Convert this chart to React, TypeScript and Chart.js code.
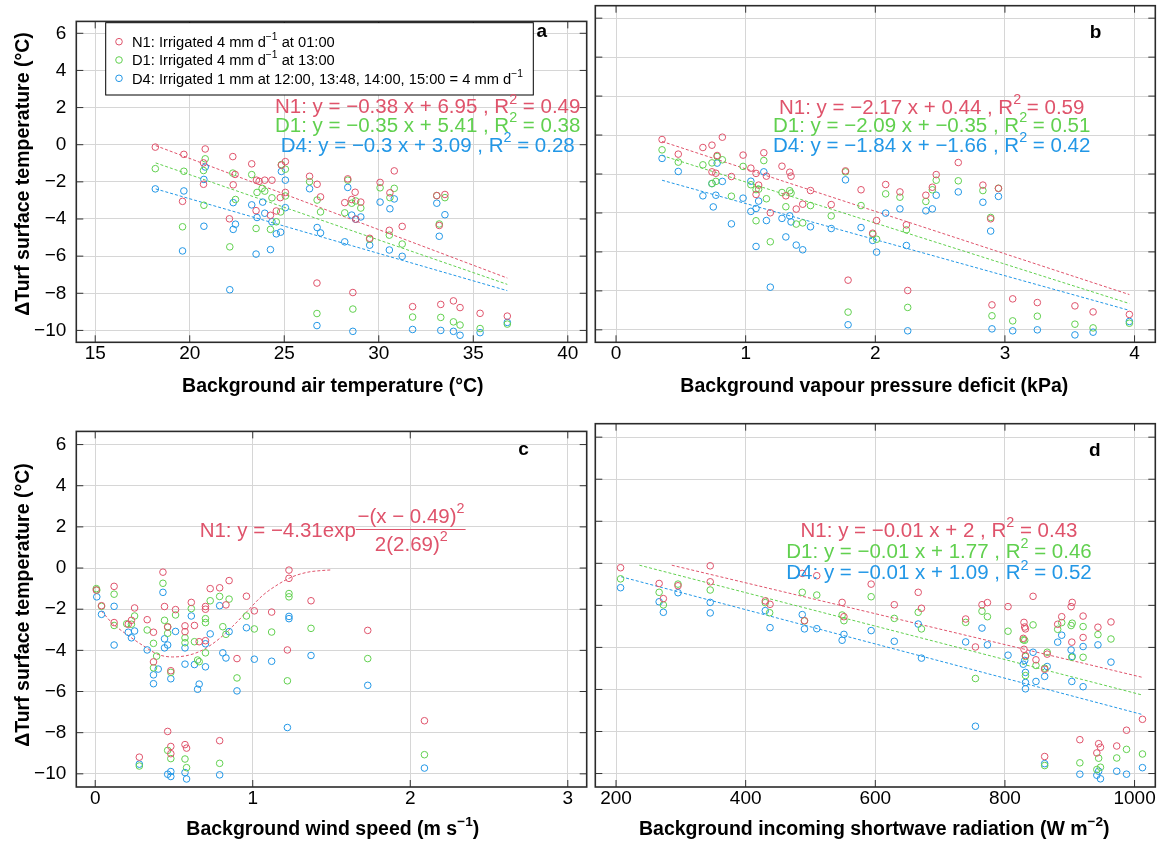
import React, { useEffect, useRef } from "react";
import { Chart, registerables } from "chart.js";
Chart.register(...registerables);

const RED = "#DF536B";
const GREEN = "#61D04F";
const BLUE = "#2297E6";
const FONT = '"Liberation Sans", Arial, Helvetica, sans-serif';

// ---------- tick values ----------
const xTicksA = [15, 20, 25, 30, 35, 40];
const xTicksB = [0, 1, 2, 3, 4];
const xTicksC = [0, 1, 2, 3];
const xTicksD = [200, 400, 600, 800, 1000];
const yTicks = [-10, -8, -6, -4, -2, 0, 2, 4, 6];

type P = [number, number];

// ---------- panel a: air temperature ----------
const aN1: P[] = [[18.18,-0.13],[19.69,-0.52],[20.82,-0.23],[20.73,-0.98],[22.28,-0.64],[23.28,-1.03],[23.53,-1.91],[23.67,-1.97],[23.97,-1.91],[24.35,-1.91],[22.4,-1.6],[24.85,-1.1],[25.06,-0.91],[20.73,-2.13],[22.3,-2.16],[19.62,-3.05],[22.1,-3.99],[23.51,-3.55],[24.27,-3.8],[24.58,-3.57],[24.79,-2.85],[25.06,-2.57],[26.34,-1.7],[26.74,-2.13],[26.92,-2.81],[28.36,-1.84],[28.75,-2.56],[28.2,-3.12],[28.57,-2.95],[29.05,-3.09],[28.78,-4.01],[30.07,-2.03],[30.59,-2.59],[30.82,-1.41],[30.56,-4.61],[31.24,-4.4],[33.07,-2.74],[33.5,-2.68],[33.2,-4.35],[26.73,-7.45],[28.63,-7.96],[31.79,-8.72],[33.28,-8.6],[33.95,-8.41],[34.3,-8.77],[35.36,-9.08],[36.8,-9.23],[29.52,-5.04]];
const aD1: P[] = [[18.18,-1.29],[19.69,-1.43],[20.82,-0.76],[20.73,-1.39],[20.75,-3.26],[19.62,-4.42],[22.28,-1.53],[22.42,-2.95],[22.12,-5.5],[23.28,-1.61],[23.56,-2.57],[23.83,-2.35],[23.97,-2.5],[24.35,-2.86],[23.51,-4.51],[24.27,-4.56],[24.58,-4.15],[24.81,-3.62],[24.85,-1.07],[25.06,-1.32],[25.06,-2.76],[26.34,-1.99],[26.74,-2.98],[26.92,-3.62],[28.36,-1.91],[28.2,-3.67],[28.57,-3.15],[28.78,-3.03],[29.05,-3.41],[30.07,-2.32],[30.59,-2.85],[30.82,-2.35],[30.56,-4.87],[31.24,-5.35],[29.52,-5.09],[33.07,-2.74],[33.5,-2.85],[33.2,-4.27],[26.73,-9.09],[28.63,-8.85],[31.79,-9.28],[33.28,-9.3],[33.95,-9.54],[34.3,-9.71],[35.36,-9.9],[36.8,-9.66]];
const aD4: P[] = [[18.18,-2.38],[19.69,-2.49],[20.75,-1.87],[20.82,-1.2],[20.75,-4.39],[19.62,-5.72],[22.3,-3.12],[22.42,-4.28],[22.3,-4.56],[22.12,-7.81],[23.28,-3.24],[23.56,-3.92],[23.86,-3.09],[23.97,-3.69],[24.35,-4.15],[23.51,-5.89],[24.27,-5.65],[24.58,-4.8],[24.81,-4.71],[24.85,-1.44],[25.06,-1.91],[25.06,-3.39],[26.34,-2.37],[26.74,-4.46],[26.92,-4.75],[28.36,-2.3],[28.2,-5.23],[28.57,-3.79],[28.78,-4.01],[29.05,-3.89],[30.07,-3.09],[30.59,-3.45],[30.82,-2.92],[30.56,-5.67],[31.24,-6.01],[29.52,-5.41],[33.07,-3.15],[33.5,-3.77],[33.2,-4.93],[26.73,-9.74],[28.63,-10.05],[31.79,-9.95],[33.28,-10],[33.95,-10.05],[34.3,-10.26],[35.36,-10.12],[36.8,-9.57]];
const aFitN1: P[] = [[18.2,-0.05],[36.8,-7.18]];
const aFitD1: P[] = [[18.2,-0.98],[36.8,-7.52]];
const aFitD4: P[] = [[18.2,-2.38],[36.8,-7.86]];

// ---------- panel b: vapour pressure deficit ----------
const bN1: P[] = [[0.355,-0.23],[0.48,-0.98],[0.67,-0.64],[0.74,-0.52],[0.82,-0.11],[0.74,-1.89],[0.77,-1.96],[0.78,-1.05],[0.89,-2.13],[0.98,-1.03],[1.04,-1.7],[1.08,-1.97],[1.1,-2.57],[1.08,-3.05],[1.14,-0.91],[1.16,-2.11],[1.19,-3.99],[1.28,-1.6],[1.34,-1.91],[1.35,-2.11],[1.31,-3.12],[1.39,-3.8],[1.44,-3.55],[1.5,-2.85],[1.66,-3.57],[1.77,-1.84],[1.89,-2.81],[2.08,-2.54],[2.01,-4.39],[1.98,-5.04],[2.19,-2.92],[2.24,-4.61],[2.39,-3.09],[2.44,-2.68],[2.47,-2.03],[2.64,-1.41],[2.83,-2.57],[2.89,-4.3],[2.95,-2.74],[1.79,-7.45],[2.25,-7.98],[2.9,-8.72],[3.06,-8.41],[3.25,-8.6],[3.54,-8.77],[3.68,-9.08],[3.96,-9.21]];
const bD1: P[] = [[0.355,-0.76],[0.48,-1.39],[0.67,-1.53],[0.74,-1.43],[0.78,-1.1],[0.82,-1.27],[0.77,-2.38],[0.74,-2.49],[0.89,-3.14],[0.98,-1.61],[1.04,-2.55],[1.08,-2.8],[1.1,-2.78],[1.08,-4.4],[1.14,-1.31],[1.16,-3.27],[1.19,-5.48],[1.28,-2.95],[1.34,-2.86],[1.35,-2.98],[1.31,-3.68],[1.39,-4.57],[1.44,-4.51],[1.5,-3.62],[1.66,-4.15],[1.77,-1.89],[1.89,-3.62],[2.08,-3.02],[2.01,-5.35],[1.98,-5.09],[2.19,-3.19],[2.24,-4.87],[2.39,-3.41],[2.44,-2.81],[2.47,-2.32],[2.64,-2.35],[2.83,-2.85],[2.89,-4.23],[2.95,-2.73],[1.79,-9.09],[2.25,-8.85],[2.9,-9.28],[3.06,-9.54],[3.25,-9.3],[3.54,-9.71],[3.68,-9.9],[3.96,-9.66]];
const bD4: P[] = [[0.355,-1.2],[0.48,-1.87],[0.67,-3.12],[0.74,-2.49],[0.78,-1.44],[0.82,-2.38],[0.77,-3.09],[0.75,-3.69],[0.89,-4.56],[0.98,-3.24],[1.04,-2.37],[1.04,-3.92],[1.08,-3.77],[1.1,-3.39],[1.08,-5.72],[1.14,-1.89],[1.16,-4.39],[1.19,-7.81],[1.28,-4.28],[1.34,-4.15],[1.35,-4.46],[1.31,-5.23],[1.39,-5.65],[1.44,-5.89],[1.5,-4.71],[1.66,-4.8],[1.77,-2.3],[1.89,-4.75],[2.08,-4.01],[2.01,-6.01],[1.98,-5.41],[2.19,-3.79],[2.24,-5.67],[2.39,-3.89],[2.44,-3.79],[2.47,-3.09],[2.64,-2.92],[2.83,-3.45],[2.89,-4.93],[2.95,-3.15],[1.79,-9.74],[2.25,-10.05],[2.9,-9.95],[3.06,-10.05],[3.25,-10],[3.54,-10.26],[3.68,-10.12],[3.96,-9.57]];
const bFitN1: P[] = [[0.355,-0.33],[3.96,-8.19]];
const bFitD1: P[] = [[0.355,-1.05],[3.96,-8.65]];
const bFitD4: P[] = [[0.355,-2.32],[3.96,-9.0]];

// ---------- panel c: wind speed ----------
const cN1: P[] = [[0.007,-1.07],[0.04,-1.83],[0.12,-0.89],[0.12,-2.65],[0.21,-2.73],[0.23,-2.54],[0.25,-1.94],[0.33,-2.51],[0.37,-3.12],[0.37,-4.56],[0.43,-0.2],[0.44,-1.87],[0.46,-2.87],[0.48,-4.99],[0.51,-2.02],[0.57,-2.81],[0.57,-3.09],[0.61,-1.67],[0.63,-2.79],[0.66,-3.58],[0.7,-1.87],[0.7,-2.0],[0.7,-3.53],[0.73,-1.0],[0.79,-0.96],[0.83,-1.79],[0.85,-0.61],[0.9,-4.4],[0.96,-1.37],[1.01,-2.08],[1.12,-2.14],[1.22,-3.98],[1.23,-0.1],[1.23,-0.5],[1.37,-1.59],[1.73,-3.03],[0.46,-7.94],[0.28,-9.19],[0.48,-8.67],[0.48,-9.02],[0.57,-8.58],[0.58,-8.75],[0.79,-8.39],[2.09,-7.42]];
const cD1: P[] = [[0.007,-1.0],[0.01,-1.07],[0.04,-1.86],[0.12,-1.27],[0.12,-2.79],[0.2,-2.71],[0.23,-2.73],[0.25,-2.33],[0.33,-3.01],[0.37,-3.66],[0.39,-4.28],[0.37,-4.85],[0.43,-0.74],[0.44,-2.54],[0.46,-2.85],[0.46,-3.17],[0.48,-5.07],[0.51,-2.28],[0.57,-3.39],[0.57,-3.63],[0.61,-1.97],[0.63,-3.58],[0.65,-4.47],[0.66,-4.55],[0.7,-2.46],[0.7,-2.65],[0.7,-4.12],[0.73,-1.59],[0.79,-1.38],[0.81,-2.85],[0.83,-3.22],[0.85,-1.51],[0.9,-5.34],[0.96,-2.33],[1.01,-2.96],[1.12,-3.11],[1.22,-5.48],[1.23,-1.24],[1.23,-1.4],[1.37,-2.93],[1.73,-4.4],[0.46,-8.86],[0.28,-9.62],[0.48,-9.26],[0.57,-9.28],[0.58,-9.7],[0.79,-9.49],[2.09,-9.07]];
const cD4: P[] = [[0.01,-1.4],[0.04,-2.25],[0.12,-1.86],[0.12,-3.74],[0.21,-3.12],[0.23,-3.39],[0.25,-3.06],[0.33,-3.98],[0.37,-5.19],[0.37,-5.62],[0.4,-4.91],[0.43,-1.18],[0.44,-3.44],[0.44,-3.88],[0.46,-3.74],[0.48,-5.38],[0.51,-3.08],[0.57,-3.88],[0.57,-4.67],[0.61,-2.33],[0.63,-4.69],[0.66,-5.64],[0.65,-5.89],[0.7,-3.68],[0.7,-4.8],[0.73,-3.2],[0.79,-1.83],[0.81,-4.12],[0.83,-4.37],[0.85,-3.09],[0.9,-5.97],[0.96,-2.9],[1.01,-4.43],[1.12,-4.53],[1.22,-7.75],[1.23,-2.35],[1.23,-2.46],[1.37,-4.25],[1.73,-5.7],[0.46,-10.02],[0.48,-9.89],[0.48,-10.13],[0.57,-9.94],[0.58,-10.25],[0.79,-10.05],[0.28,-9.53],[2.09,-9.72]];
const cFitN1: P[] = [[0.04,-2.09],[0.11,-2.69],[0.21,-3.28],[0.3,-3.75],[0.4,-4.2],[0.49,-4.32],[0.59,-4.24],[0.68,-3.99],[0.78,-3.48],[0.87,-2.85],[0.97,-2.06],[1.06,-1.35],[1.16,-0.8],[1.25,-0.43],[1.35,-0.2],[1.44,-0.12],[1.5,-0.09]];

// ---------- panel d: shortwave radiation ----------
const dN1: P[] = [[207,-0.21],[266.5,-0.96],[273,-1.68],[295.6,-1.07],[345.3,-0.12],[345.3,-0.88],[430.3,-1.79],[437.6,-1.95],[487.3,-0.48],[490.7,-2.73],[509.7,-0.59],[548.8,-1.86],[551.6,-2.54],[593.6,-0.99],[629.3,-1.97],[666.2,-1.38],[671.2,-2.14],[739.4,-2.65],[754.5,-3.98],[764.6,-1.97],[773,-1.87],[804.8,-2.06],[829.4,-2.81],[830.5,-3.03],[831.7,-3.12],[828.3,-3.57],[829.4,-4.09],[831.7,-4.39],[843.4,-1.57],[847.9,-4.59],[861.3,-5.04],[865.2,-4.32],[881.4,-2.9],[887.6,-2.54],[902.1,-2.06],[903.8,-1.86],[903.2,-3.75],[920.6,-2.51],[920.6,-3.53],[943.5,-3.04],[963.6,-2.79],[861.3,-9.19],[915.6,-8.39],[941.8,-9.02],[944.6,-8.58],[947.4,-8.75],[972.5,-8.69],[987.6,-7.94],[1012.2,-7.42]];
const dD1: P[] = [[207,-0.74],[266.5,-1.38],[273,-1.98],[295.6,-0.99],[345.3,-1.27],[437,-2.35],[430.3,-1.87],[487.3,-1.38],[490.7,-2.74],[509.7,-1.51],[548.8,-2.46],[551.6,-2.73],[593.6,-1.59],[629.3,-2.62],[666.2,-2.33],[671.2,-3.12],[739.4,-2.81],[754.5,-5.48],[764.6,-2.28],[773,-2.54],[804.8,-3.23],[828.3,-3.64],[830.5,-3.66],[831.7,-4.43],[831.7,-5.34],[843.4,-2.93],[847.9,-4.86],[861.3,-4.99],[865.2,-4.23],[881.4,-3.14],[887.6,-2.82],[902.1,-2.96],[903.8,-2.85],[903.2,-4.47],[920.6,-3.01],[920.6,-4.47],[943.5,-3.39],[963.6,-3.6],[861.3,-9.62],[915.6,-9.49],[941.8,-9.81],[944.6,-9.27],[947.4,-9.7],[972.5,-9.26],[987.6,-8.85],[1012.2,-9.07]];
const dD4: P[] = [[207,-1.16],[266.5,-1.83],[273,-2.33],[295.6,-1.4],[345.3,-1.86],[345.3,-2.36],[430.3,-2.25],[437.6,-3.06],[487.3,-2.44],[490.7,-3.12],[509.7,-3.11],[548.8,-3.66],[551.6,-3.38],[593.6,-3.2],[629.3,-3.71],[666.2,-2.89],[671.2,-4.51],[739.4,-3.74],[754.5,-7.75],[764.6,-3.08],[773,-3.88],[804.8,-4.37],[828.3,-4.8],[830.5,-4.62],[831.7,-5.19],[831.7,-5.67],[831.7,-5.97],[843.4,-4.23],[847.9,-5.62],[861.3,-5.38],[865.2,-4.91],[881.4,-3.75],[887.6,-3.42],[902.1,-4.12],[903.8,-4.43],[903.2,-5.62],[920.6,-3.96],[920.6,-5.87],[943.5,-3.88],[963.6,-4.7],[861.3,-9.53],[915.6,-10.03],[941.8,-10.08],[944.6,-9.89],[947.4,-10.25],[972.5,-9.89],[987.6,-10.03],[1012.2,-9.72]];
const dFitN1: P[] = [[286,-0.09],[1012.8,-5.43]];
const dFitD1: P[] = [[236,-0.09],[1010,-6.25]];
const dFitD4: P[] = [[208,-0.64],[1012.8,-7.2]];

// ---------- text ----------
type Seg = { t: string; sup?: boolean };
const legendRows: { color: string; segs: Seg[] }[] = [
  { color: RED, segs: [{ t: "N1: Irrigated 4 mm d" }, { t: "−1", sup: true }, { t: " at 01:00" }] },
  { color: GREEN, segs: [{ t: "D1: Irrigated 4 mm d" }, { t: "−1", sup: true }, { t: " at 13:00" }] },
  { color: BLUE, segs: [{ t: "D4: Irrigated 1 mm at 12:00, 13:48, 14:00, 15:00 = 4 mm d" }, { t: "−1", sup: true }] },
];
const eq = (a: string, b: string): Seg[] => [{ t: a + ", R" }, { t: "2", sup: true }, { t: " = " + b }];
const eqA = [eq("N1: y = −0.38 x + 6.95 ", "0.49"), eq("D1: y = −0.35 x + 5.41 ", "0.38"), eq("D4: y = −0.3 x + 3.09 ", "0.28")];
const eqB = [eq("N1: y = −2.17 x + 0.44 ", "0.59"), eq("D1: y = −2.09 x + −0.35 ", "0.51"), eq("D4: y = −1.84 x + −1.66 ", "0.42")];
const eqD = [eq("N1: y = −0.01 x + 2 ", "0.43"), eq("D1: y = −0.01 x + 1.77 ", "0.46"), eq("D4: y = −0.01 x + 1.09 ", "0.52")];
const COLORS = [RED, GREEN, BLUE];
const Y_TITLE = "ΔTurf surface temperature (°C)";

function font(size: number, bold = false) {
  return `${bold ? "bold " : ""}${size}px ${FONT}`;
}

function drawRich(ctx: CanvasRenderingContext2D, segs: Seg[], x: number, yMid: number, size: number, color: string, align: "left" | "center" | "right", bold = false) {
  let w = 0;
  const widths = segs.map((s) => {
    ctx.font = font(s.sup ? size * 0.7 : size, bold);
    const m = ctx.measureText(s.t).width;
    w += m;
    return m;
  });
  let cx = align === "center" ? x - w / 2 : align === "right" ? x - w : x;
  const base = yMid + size * 0.36;
  ctx.fillStyle = color;
  ctx.textAlign = "left";
  ctx.textBaseline = "alphabetic";
  segs.forEach((s, i) => {
    ctx.font = font(s.sup ? size * 0.7 : size, bold);
    ctx.fillText(s.t, cx, s.sup ? base - size * 0.48 : base);
    cx += widths[i];
  });
}

function circle(ctx: CanvasRenderingContext2D, x: number, y: number, color: string) {
  ctx.beginPath();
  ctx.arc(x, y, 3.3, 0, Math.PI * 2);
  ctx.strokeStyle = color;
  ctx.lineWidth = 1;
  ctx.stroke();
}

type PanelCfg = {
  ox: number; oy: number; w: number; h: number;
  yW: number; xH: number; padTop: number; padRight: number;
  xmin: number; xmax: number; xTicks: number[]; showY: boolean;
  series: P[][]; fits: { pts: P[]; color: string; smooth?: boolean }[];
  extra: (ctx: CanvasRenderingContext2D) => void;
};

const EQ_SIZE = 20.5;

const panels: PanelCfg[] = [
  {
    ox: 0, oy: 0, w: 591, h: 410, yW: 76.3, xH: 67.7, padTop: 5.7, padRight: 1.7,
    xmin: 14, xmax: 41, xTicks: xTicksA, showY: true,
    series: [aN1, aD1, aD4],
    fits: [{ pts: aFitN1, color: RED }, { pts: aFitD1, color: GREEN }, { pts: aFitD4, color: BLUE }],
    extra: (ctx) => {
      ctx.fillStyle = "#fff";
      ctx.fillRect(105.7, 22.7, 427.6, 72.3);
      ctx.strokeStyle = "#000";
      ctx.lineWidth = 1;
      ctx.strokeRect(105.7, 22.7, 427.6, 72.3);
      const rows = [41.7, 60, 78.3];
      legendRows.forEach((r, i) => {
        circle(ctx, 119, rows[i], r.color);
        drawRich(ctx, r.segs, 132, rows[i], 14.7, "#000", "left");
      });
      [106, 124.7, 144.7].forEach((y, i) => drawRich(ctx, eqA[i], 427.7, y, EQ_SIZE, COLORS[i], "center"));
      drawRich(ctx, [{ t: "a" }], 541.7, 30, 19, "#000", "center", true);
      drawRich(ctx, [{ t: "Background air temperature (°C)" }], 332.8, 385, 19.5, "#000", "center", true);
      ctx.save();
      ctx.translate(22, 174);
      ctx.rotate(-Math.PI / 2);
      drawRich(ctx, [{ t: Y_TITLE }], 0, 0, 19.5, "#000", "center", true);
      ctx.restore();
    },
  },
  {
    ox: 591, oy: 0, w: 570, h: 410, yW: 2.3, xH: 67.7, padTop: 5.7, padRight: 5.7,
    xmin: -0.16, xmax: 4.16, xTicks: xTicksB, showY: false,
    series: [bN1, bD1, bD4],
    fits: [{ pts: bFitN1, color: RED }, { pts: bFitD1, color: GREEN }, { pts: bFitD4, color: BLUE }],
    extra: (ctx) => {
      [106.7, 124.7, 144.7].forEach((y, i) => drawRich(ctx, eqB[i], 931.7, y, EQ_SIZE, COLORS[i], "center"));
      drawRich(ctx, [{ t: "b" }], 1095.5, 31.3, 19, "#000", "center", true);
      drawRich(ctx, [{ t: "Background vapour pressure deficit (kPa)" }], 874.3, 385, 19.5, "#000", "center", true);
    },
  },
  {
    ox: 0, oy: 410, w: 591, h: 431, yW: 76.3, xH: 54, padTop: 13.7, padRight: 1.7,
    xmin: -0.12, xmax: 3.12, xTicks: xTicksC, showY: true,
    series: [cN1, cD1, cD4],
    fits: [{ pts: cFitN1, color: RED, smooth: true }],
    extra: (ctx) => {
      drawRich(ctx, [{ t: "N1: y = −4.31exp" }], 355.8, 530, EQ_SIZE, RED, "right");
      ctx.beginPath();
      ctx.moveTo(355.8, 529.5);
      ctx.lineTo(465.6, 529.5);
      ctx.strokeStyle = RED;
      ctx.lineWidth = 1;
      ctx.stroke();
      drawRich(ctx, [{ t: "−(x − 0.49)" }, { t: "2", sup: true }], 411, 515.5, EQ_SIZE, RED, "center");
      drawRich(ctx, [{ t: "2(2.69)" }, { t: "2", sup: true }], 411.3, 543.3, EQ_SIZE, RED, "center");
      drawRich(ctx, [{ t: "c" }], 523.5, 448, 19, "#000", "center", true);
      drawRich(ctx, [{ t: "Background wind speed (m s" }, { t: "−1", sup: true }, { t: ")" }], 332.8, 828, 19.5, "#000", "center", true);
      ctx.save();
      ctx.translate(22, 605);
      ctx.rotate(-Math.PI / 2);
      drawRich(ctx, [{ t: Y_TITLE }], 0, 0, 19.5, "#000", "center", true);
      ctx.restore();
    },
  },
  {
    ox: 591, oy: 410, w: 570, h: 431, yW: 2.3, xH: 54, padTop: 13.7, padRight: 5.7,
    xmin: 168, xmax: 1032, xTicks: xTicksD, showY: false,
    series: [dN1, dD1, dD4],
    fits: [{ pts: dFitN1, color: RED }, { pts: dFitD1, color: GREEN }, { pts: dFitD4, color: BLUE }],
    extra: (ctx) => {
      [529.6, 550.3, 572].forEach((y, i) => drawRich(ctx, eqD[i], 939, y, EQ_SIZE, COLORS[i], "center"));
      drawRich(ctx, [{ t: "d" }], 1094.7, 449.6, 19, "#000", "center", true);
      drawRich(ctx, [{ t: "Background incoming shortwave radiation (W m" }, { t: "−2", sup: true }, { t: ")" }], 874.3, 828, 19.5, "#000", "center", true);
    },
  },
];

const fmt = (v: number) => String(v).replace("-", "−");

function buildConfig(cfg: PanelCfg): any {
  const datasets: any[] = [];
  cfg.series.forEach((s, i) => {
    datasets.push({
      data: s.map(([x, y]) => ({ x, y })),
      showLine: false,
      borderColor: COLORS[i],
      backgroundColor: "rgba(0,0,0,0)",
      pointRadius: 3.3,
      pointBorderWidth: 1,
      pointHoverRadius: 3.3,
    });
  });
  cfg.fits.forEach((f) => {
    datasets.push({
      data: f.pts.map(([x, y]) => ({ x, y })),
      showLine: true,
      borderColor: f.color,
      borderWidth: 1,
      borderDash: [3, 2],
      pointRadius: 0,
      fill: false,
      tension: f.smooth ? 0.4 : 0,
      cubicInterpolationMode: f.smooth ? "monotone" : "default",
    });
  });

  const framePlugin = {
    id: "frame",
    afterDraw(chart: any) {
      const { ctx, chartArea: ca, scales } = chart;
      ctx.save();
      ctx.strokeStyle = "#333";
      ctx.lineWidth = 1;
      const tl = 7;
      cfg.xTicks.forEach((v) => {
        const px = scales.x.getPixelForValue(v);
        ctx.beginPath();
        ctx.moveTo(px, ca.bottom); ctx.lineTo(px, ca.bottom - tl);
        ctx.moveTo(px, ca.top); ctx.lineTo(px, ca.top + tl);
        ctx.stroke();
      });
      yTicks.forEach((v) => {
        const py = scales.y.getPixelForValue(v);
        ctx.beginPath();
        ctx.moveTo(ca.left, py); ctx.lineTo(ca.left + tl, py);
        ctx.moveTo(ca.right, py); ctx.lineTo(ca.right - tl, py);
        ctx.stroke();
      });
      ctx.strokeStyle = "#2b2b2b";
      ctx.lineWidth = 1.6;
      ctx.strokeRect(ca.left, ca.top, ca.right - ca.left, ca.bottom - ca.top);
      ctx.restore();
      ctx.save();
      ctx.translate(-cfg.ox, -cfg.oy);
      cfg.extra(ctx);
      ctx.restore();
    },
  };

  return {
    type: "scatter",
    data: { datasets },
    options: {
      animation: false,
      responsive: false,
      devicePixelRatio: 1,
      events: [],
      layout: { padding: { top: cfg.padTop, right: cfg.padRight, left: 0, bottom: 0 } },
      plugins: { legend: { display: false }, tooltip: { enabled: false } },
      scales: {
        x: {
          type: "linear",
          position: "bottom",
          min: cfg.xmin,
          max: cfg.xmax,
          afterBuildTicks: (s: any) => { s.ticks = cfg.xTicks.map((v) => ({ value: v })); },
          afterFit: (s: any) => { s.height = cfg.xH; },
          grid: { color: "#d6d6d6", lineWidth: 1, drawTicks: false },
          border: { display: false },
          ticks: { font: { family: FONT, size: 19 }, color: "#000", padding: 0, maxRotation: 0, autoSkip: false, callback: (v: number) => fmt(v) },
        },
        y: {
          type: "linear",
          position: "left",
          min: -10.64,
          max: 6.64,
          afterBuildTicks: (s: any) => { s.ticks = yTicks.map((v) => ({ value: v })); },
          afterFit: (s: any) => { s.width = cfg.yW; },
          grid: { color: "#d6d6d6", lineWidth: 1, drawTicks: false },
          border: { display: false },
          ticks: { display: cfg.showY, font: { family: FONT, size: 19 }, color: "#000", padding: 10, autoSkip: false, callback: (v: number) => fmt(v) },
        },
      },
    },
    plugins: [framePlugin],
  };
}

function Panel({ cfg }: { cfg: PanelCfg }) {
  const ref = useRef<HTMLCanvasElement>(null);
  useEffect(() => {
    const chart = new Chart(ref.current as HTMLCanvasElement, buildConfig(cfg));
    return () => chart.destroy();
  }, []);
  return (
    <canvas
      ref={ref}
      width={cfg.w}
      height={cfg.h}
      style={{ position: "absolute", left: cfg.ox, top: cfg.oy, width: cfg.w, height: cfg.h }}
    />
  );
}

export default function App() {
  return (
    <div style={{ position: "absolute", left: 0, top: 0, width: 1161, height: 841, background: "#fff", overflow: "hidden" }}>
      {panels.map((p, i) => (
        <Panel key={i} cfg={p} />
      ))}
    </div>
  );
}
